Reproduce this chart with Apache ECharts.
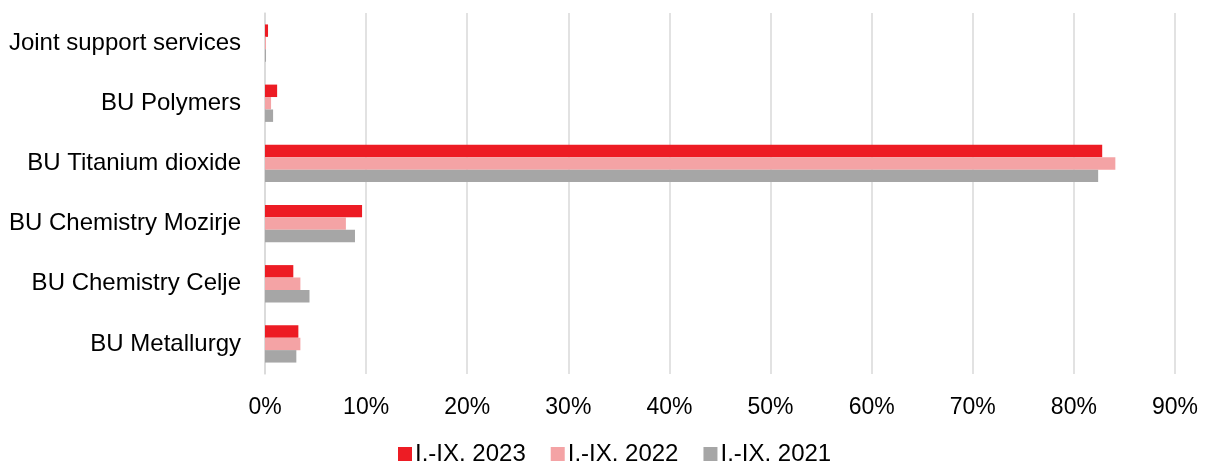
<!DOCTYPE html>
<html><head><meta charset="utf-8">
<script src="https://cdn.jsdelivr.net/npm/echarts@6/dist/echarts.min.js"></script>
<style>html,body{margin:0;padding:0;background:#fff}#c{width:1208px;height:466px}</style>
</head><body><div id="c"></div>
<script>
const categories = ['Joint support services','BU Polymers','BU Titanium dioxide','BU Chemistry Mozirje','BU Chemistry Celje','BU Metallurgy'];
const s2023 = [0.3, 1.2, 82.8, 9.6, 2.8, 3.3];
const s2022 = [0.1, 0.6, 84.1, 8.0, 3.5, 3.5];
const s2021 = [0.1, 0.8, 82.4, 8.9, 4.4, 3.1];
const seriesNames = ['I.-IX. 2023','I.-IX. 2022','I.-IX. 2021'];
const colors = ['#ED1C24','#F4A3A5','#A6A6A6'];
const font = 'Liberation Sans, Arial, sans-serif';
const chart = echarts.init(document.getElementById('c'));
chart.setOption({
  animation:false,
  color: colors,
  grid:{left:265,right:33,top:13,bottom:92,containLabel:false},
  legend:{top:437,left:393,itemWidth:14,itemHeight:14,itemGap:25,icon:'rect',
    textStyle:{fontFamily:font,fontSize:24,color:'#000',padding:[0,0,0,-2]}},
  xAxis:{type:'value',min:0,max:90,interval:10,
    axisLabel:{formatter:'{value}%',fontFamily:font,fontSize:23,color:'#000',margin:22},
    splitLine:{lineStyle:{color:'#D9D9D9',width:1.5}},axisLine:{show:false},axisTick:{show:false}},
  yAxis:{type:'category',data:categories,inverse:true,
    axisLabel:{fontFamily:font,fontSize:24,color:'#000',margin:24},
    axisLine:{show:true,lineStyle:{color:'#D9D9D9',width:1.5}},axisTick:{show:false}},
  series:[
    {name:seriesNames[0],type:'bar',data:s2023,barGap:'0%',barCategoryGap:'38%'},
    {name:seriesNames[1],type:'bar',data:s2022,barGap:'0%',barCategoryGap:'38%'},
    {name:seriesNames[2],type:'bar',data:s2021,barGap:'0%',barCategoryGap:'38%'}
  ]
});
</script></body></html>
